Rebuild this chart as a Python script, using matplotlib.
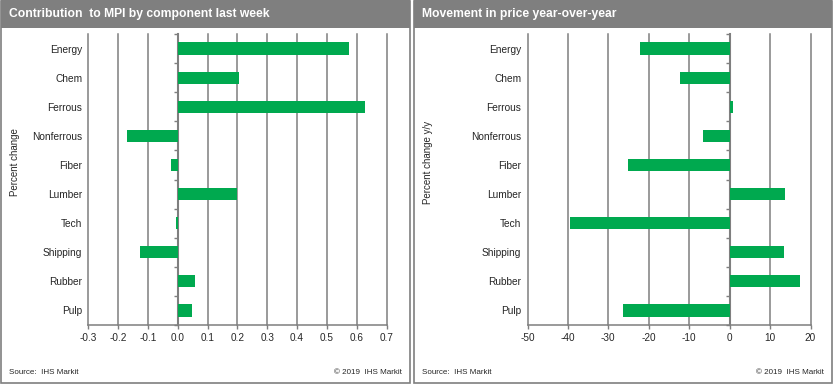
import numpy as np
import matplotlib
matplotlib.use('Agg')
import matplotlib.pyplot as plt
from matplotlib.patches import Rectangle

plt.rcParams['font.family'] = ['Liberation Sans', 'DejaVu Sans']

# DATA
categories = ['Energy', 'Chem', 'Ferrous', 'Nonferrous', 'Fiber',
              'Lumber', 'Tech', 'Shipping', 'Rubber', 'Pulp']
contribution = [0.575, 0.205, 0.628, -0.171, -0.023, 0.198, -0.007, -0.128, 0.057, 0.047]
yoy_change = [-22.1, -12.2, 0.9, -6.5, -25.1, 13.8, -39.4, 13.5, 17.3, -26.3]

left_ticks = [-0.3, -0.2, -0.1, 0.0, 0.1, 0.2, 0.3, 0.4, 0.5, 0.6, 0.7]
right_ticks = [-50, -40, -30, -20, -10, 0, 10, 20]

GREEN = '#00a94f'
GRAY = '#7f7f7f'
TEXT = '#262626'

W, H = 834, 385
fig = plt.figure(figsize=(W / 100, H / 100), dpi=100)


def px(x0, y0, x1, y1):
    # pixel box (top-down) -> figure fraction rect
    return [x0 / W, 1 - y1 / H, (x1 - x0) / W, (y1 - y0) / H]


def panel(x0, x1, title, ylabel):
    l, b, w, h = px(x0, 0.5, x1, 383)
    fig.add_artist(Rectangle((l, b), w, h, transform=fig.transFigure,
                             facecolor='white', edgecolor=GRAY, lw=1.2, zorder=0))
    l, b, w, h = px(x0, 0, x1, 28)
    fig.add_artist(Rectangle((l, b), w, h, transform=fig.transFigure,
                             facecolor='#7f7f7f', edgecolor='none', zorder=1))
    fig.text((x0 + 8) / W, 1 - 14.5 / H, title, color='white', fontsize=8.7,
             fontweight='bold', va='center', ha='left')
    fig.text((x0 + 14) / W, 1 - 162 / H, ylabel, rotation=90, fontsize=7,
             color=TEXT, va='center', ha='center')
    fig.text((x0 + 8) / W, 1 - 372 / H, 'Source:  IHS Markit', fontsize=5.8,
             color=TEXT, va='center', ha='left')
    fig.text((x1 - 8) / W, 1 - 372 / H, '\u00a9 2019  IHS Markit', fontsize=5.8,
             color=TEXT, va='center', ha='right')


def bars(rect, values, ticks, fmt):
    ax = fig.add_axes(rect)
    y = np.arange(len(categories))
    ax.barh(y, values, height=0.42, color=GREEN, zorder=3)
    ax.set_xlim(ticks[0], ticks[-1])
    ax.set_ylim(len(categories) - 0.5, -0.5)
    ax.set_xticks(ticks)
    ax.set_xticklabels([fmt(t) for t in ticks])
    ax.set_yticks(y)
    ax.set_yticklabels(categories)
    ax.tick_params(axis='y', length=0, pad=4.5, labelsize=7.3, labelcolor=TEXT)
    ax.tick_params(axis='x', length=3, width=1, color=GRAY, pad=3,
                   labelsize=7.2, labelcolor=TEXT)
    ax.grid(axis='x', color=GRAY, lw=1.1, zorder=1)
    for line in ax.get_xgridlines():
        line.set_clip_on(False)
    ax.set_axisbelow(True)
    for s in ['top', 'right', 'left']:
        ax.spines[s].set_visible(False)
    ax.spines['bottom'].set_color(GRAY)
    ax.spines['bottom'].set_linewidth(1.1)
    ax.spines['bottom'].set_zorder(4)
    # zero axis with category separator ticks
    sec = ax.secondary_yaxis(0, transform=ax.transData)
    sec.set_yticks(np.arange(-0.5, len(categories), 1))
    sec.tick_params(axis='y', length=3, width=1, color=GRAY, labelleft=False)
    sec.spines['left'].set_color(GRAY)
    sec.spines['left'].set_linewidth(1.5)
    return ax


panel(1, 410, 'Contribution  to MPI by component last week', 'Percent change')
panel(414, 832, 'Movement in price year-over-year', 'Percent change y/y')

bars(px(88.5, 34, 386.5, 325), contribution, left_ticks, lambda t: f'{t:.1f}')
bars(px(527.5, 34, 810.5, 325), yoy_change, right_ticks, lambda t: f'{t:d}')

fig.savefig('out.png', dpi=100)
